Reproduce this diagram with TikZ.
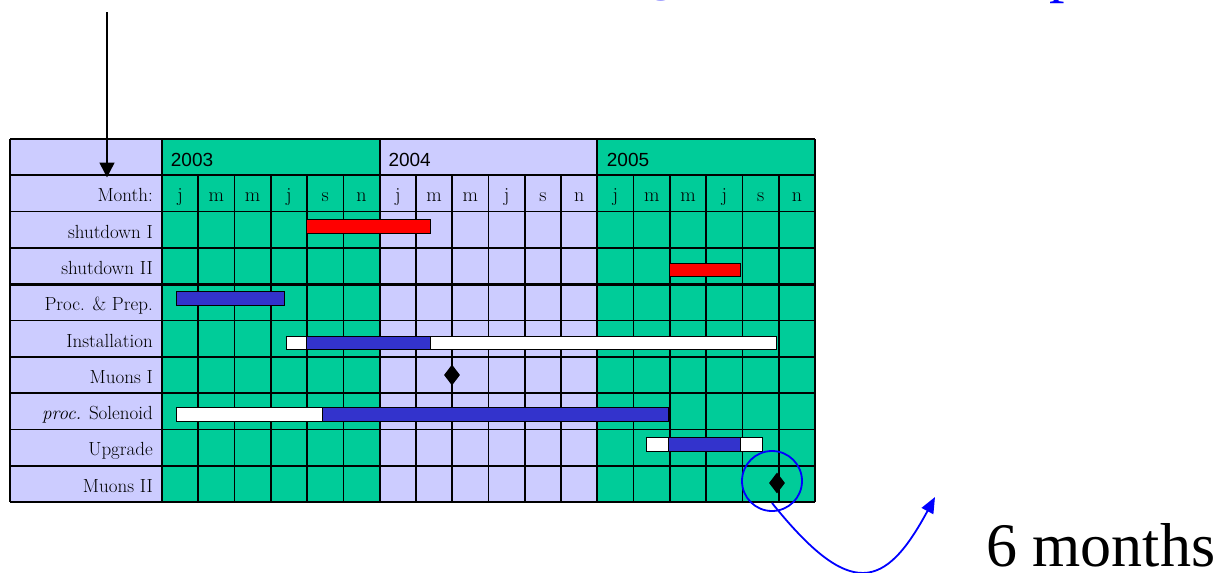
\documentclass[tikz,border=0pt]{standalone}
\usepackage{fontspec}
\newfontfamily\timesf{Liberation Serif}
\newfontfamily\arialf{Liberation Sans}
\usetikzlibrary{shapes.geometric,arrows.meta,calc}
\definecolor{grn}{RGB}{0,204,153}
\definecolor{lav}{RGB}{204,204,255}
\definecolor{barblue}{RGB}{51,51,204}
\definecolor{pureblue}{RGB}{0,0,255}
\tikzset{
  gridline/.style={line width=1.7pt, draw=black},
  bar/.style={draw=black, line width=1pt},
  lbl/.style={anchor=base east, inner sep=0, font=\fontsize{19}{19}\selectfont},
  mon/.style={anchor=base, inner sep=0, font=\fontsize{20}{20}\selectfont},
  yr/.style={anchor=base west, inner sep=0, font=\arialf\fontsize{19}{19}\selectfont},
  milestone/.style={diamond, fill=black, inner sep=0, minimum width=16pt, minimum height=21pt},
  bigtxt/.style={anchor=base west, inner sep=0, font=\timesf\fontsize{62}{62}\selectfont}
}
\begin{document}
\begin{tikzpicture}[x=1pt,y=-1pt]
\useasboundingbox (0,0) rectangle (1227,573);
\pgfmathsetmacro{\w}{653/18}
\pgfmathsetmacro{\h}{36.3}
% backgrounds
\fill[lav] (10,139) rectangle (162,502);
\fill[grn] (162,139) rectangle ({162+6*\w},502);
\fill[lav] ({162+6*\w},139) rectangle ({162+12*\w},502);
\fill[grn] ({162+12*\w},139) rectangle (815,502);
% horizontal lines
\foreach \k in {0,...,10}{
  \draw[gridline] (10,{139+\k*\h}) -- (815,{139+\k*\h});
}
\draw[line width=3.2pt] (10,{139+4*\h}) -- (815,{139+4*\h});
% vertical lines
\draw[gridline] (10,139) -- (10,502);
\draw[gridline] (162,139) -- (162,502);
\draw[gridline] (815,139) -- (815,502);
\foreach \i in {1,...,17}{
  \draw[gridline] ({162+\i*\w},{139+\h}) -- ({162+\i*\w},502);
}
\foreach \i in {6,12}{
  \draw[gridline] ({162+\i*\w},139) -- ({162+\i*\w},{139+\h});
}
% years
\node[yr] (y3) at (170.7,166) {2003};
\node[yr] (y4) at (388.3,166) {2004};
\node[yr] (y5) at (606.7,166) {2005};
% months
\foreach \m [count=\i from 0] in {j,m,m,j,s,n,j,m,m,j,s,n,j,m,m,j,s,n}{
  \node[mon] (m\i) at ({162+(\i+0.5)*\w},201.7) {\m};
}
% labels
\node[lbl] (lmonth) at (153,201.7) {Month:};
\node[lbl] (l1) at (153,{139+3*\h-9.8}) {shutdown I};
\node[lbl] (l2) at (153,{139+4*\h-9.8}) {shutdown II};
\node[lbl] (l3) at (153,{139+5*\h-9.8}) {Proc. \& Prep.};
\node[lbl] (l4) at (153,{139+6*\h-9.8}) {Installation};
\node[lbl] (l5) at (153,{139+7*\h-9.8}) {Muons I};
\node[lbl] (l6) at (153,{139+8*\h-9.8}) {\textit{proc.} Solenoid};
\node[lbl] (l7) at (153,{139+9*\h-9.8}) {Upgrade};
\node[lbl] (l8) at (153,{139+10*\h-9.8}) {Muons II};
% bars
\filldraw[bar, fill=red] (306.7,219.3) rectangle (430.7,233.3);
\filldraw[bar, fill=red] (669.3,263.3) rectangle (740,276.7);
\filldraw[bar, fill=barblue] (176,291.7) rectangle (284.3,305);
\filldraw[bar, fill=white] (286,336) rectangle (306,349.3);
\filldraw[bar, fill=barblue] (306,336) rectangle (430.7,349.3);
\filldraw[bar, fill=white] (430.7,336) rectangle (776.7,349.3);
\filldraw[bar, fill=white] (176.7,407.7) rectangle (322,421);
\filldraw[bar, fill=barblue] (322,407.7) rectangle (668.3,421);
\filldraw[bar, fill=white] (646.7,437.7) rectangle (668.7,451);
\filldraw[bar, fill=barblue] (668.7,437.7) rectangle (740.7,451);
\filldraw[bar, fill=white] (740.7,437.7) rectangle (762.7,451);
% milestones
\node[milestone] (ms1) at (452,375) {};
\node[milestone] (ms2) at (777,483) {};
% blue circle and arrow
\node[circle, draw=pureblue, line width=1.8pt, minimum size=60pt, inner sep=0] (circ) at (772,481) {};
\coordinate (cstart) at ($(circ.center)+(0,22)$);
\coordinate (bend) at (935,497);
\draw[pureblue, line width=1.8pt, -{Triangle[width=13pt,length=16pt]}] (cstart) .. controls (850,600) and (885,590) .. (bend);
% black arrow
\coordinate (atop) at (107,12);
\coordinate (atip) at (107,177.5);
\draw[line width=1.5pt, -{Triangle[width=15pt,length=15pt]}] (atop) -- (atip);
% text
\node[bigtxt] (six) at (986,566) {6 months};
\node[bigtxt, text=pureblue] (tg) at (646,-12.5) {g};
\node[bigtxt, text=pureblue] (tp) at (1049,-9.5) {p};
\end{tikzpicture}
\end{document}
